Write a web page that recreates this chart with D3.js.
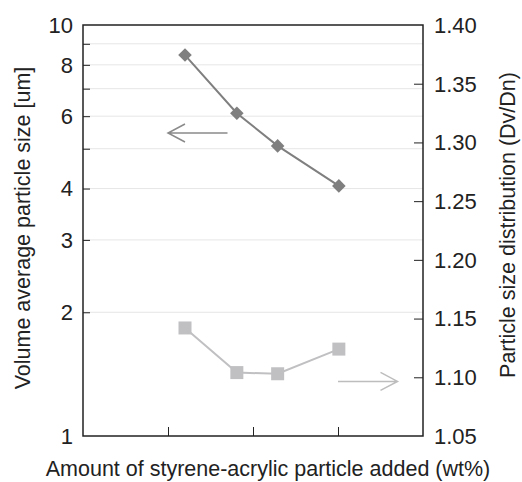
<!DOCTYPE html>
<meta charset="utf-8">
<head>
    <script src="https://d3js.org/d3.v7.min.js"></script>
    <style>
        body { margin: 0; background: white; }
        text { font-family: "Liberation Sans", Arial, sans-serif; fill: #222; }
    </style>
</head>
<body>
<div id="chart"></div>
<script>
    // data
    var amount = [1.2, 1.81, 2.29, 3.01];          // wt% (no tick labels on x)
    var particleSize = [8.45, 6.1, 5.08, 4.06];    // um, left log axis
    var distribution = [1.142, 1.104, 1.103, 1.124]; // Dv/Dn, right axis
    var leftTickLabels = [1, 2, 3, 4, 6, 8, 10];
    var leftGrid = [2, 3, 4, 5, 6, 7, 8, 9];
    var rightTicks = [1.05, 1.10, 1.15, 1.20, 1.25, 1.30, 1.35, 1.40];
    var xTicks = [1, 2, 3];

    var width = 522, height = 482;
    var margin = { top: 25, right: 99, bottom: 46, left: 83 };
    var plotW = width - margin.left - margin.right,
        plotH = height - margin.top - margin.bottom;

    var svg = d3.select("#chart").append("svg")
        .attr("width", width)
        .attr("height", height);
    var g = svg.append("g")
        .attr("transform", "translate(" + margin.left + "," + margin.top + ")");

    var x = d3.scaleLinear().domain([0, 4]).range([0, plotW]);
    var yL = d3.scaleLog().domain([1, 10]).range([plotH, 0]);
    var yR = d3.scaleLinear().domain([1.05, 1.40]).range([plotH, 0]);

    // gridlines
    g.append("g").selectAll("line")
        .data(leftGrid)
        .enter().append("line")
        .attr("x1", 0).attr("x2", plotW)
        .attr("y1", d => yL(d)).attr("y2", d => yL(d))
        .attr("stroke", "#e6e6e6")
        .attr("stroke-width", 1);

    // left axis: inward ticks at every grid line, labels only on some
    var leftAxis = d3.axisRight(yL)
        .tickValues(leftGrid)
        .tickSize(7)
        .tickFormat("");
    g.append("g").call(leftAxis)
        .call(a => a.select(".domain").remove())
        .selectAll("line").attr("stroke", "#222");
    g.append("g").selectAll("text")
        .data(leftTickLabels)
        .enter().append("text")
        .attr("x", -10)
        .attr("y", d => yL(d))
        .attr("dy", "0.36em")
        .attr("text-anchor", "end")
        .style("font-size", "22px")
        .text(d => d);

    // right axis
    var rightAxis = d3.axisLeft(yR)
        .tickValues(rightTicks.slice(1, -1))
        .tickSize(9)
        .tickFormat("");
    g.append("g").attr("transform", "translate(" + plotW + ",0)")
        .call(rightAxis)
        .call(a => a.select(".domain").remove())
        .selectAll("line").attr("stroke", "#222");
    g.append("g").selectAll("text")
        .data(rightTicks)
        .enter().append("text")
        .attr("x", plotW + 11)
        .attr("y", d => yR(d))
        .attr("dy", "0.36em")
        .style("font-size", "22px")
        .text(d => d3.format(".2f")(d));

    // bottom axis ticks, no labels
    var xAxis = d3.axisTop(x).tickValues(xTicks).tickSize(9).tickFormat("");
    g.append("g").attr("transform", "translate(0," + plotH + ")")
        .call(xAxis)
        .call(a => a.select(".domain").remove())
        .selectAll("line").attr("stroke", "#222");

    // frame
    g.append("rect")
        .attr("width", plotW).attr("height", plotH)
        .attr("fill", "none")
        .attr("stroke", "#222")
        .attr("stroke-width", 1.5);

    // particle size series (diamonds)
    var pts1 = amount.map((a, i) => [x(a), yL(particleSize[i])]);
    g.append("path")
        .attr("d", d3.line()(pts1))
        .attr("fill", "none")
        .attr("stroke", "#7f7f7f")
        .attr("stroke-width", 2);
    g.append("g").selectAll("path")
        .data(pts1)
        .enter().append("path")
        .attr("transform", d => "translate(" + d[0] + "," + d[1] + ") rotate(45)")
        .attr("d", "M-4.8,-4.8H4.8V4.8H-4.8Z")
        .attr("fill", "#7f7f7f");

    // distribution series (squares)
    var pts2 = amount.map((a, i) => [x(a), yR(distribution[i])]);
    g.append("path")
        .attr("d", d3.line()(pts2))
        .attr("fill", "none")
        .attr("stroke", "#c0c0c3")
        .attr("stroke-width", 2);
    g.append("g").selectAll("rect")
        .data(pts2)
        .enter().append("rect")
        .attr("x", d => d[0] - 6.5).attr("y", d => d[1] - 6.5)
        .attr("width", 13).attr("height", 13)
        .attr("fill", "#c0c0c3");

    // arrows pointing to each axis
    function arrow(x1, x2, yv, color) {
        var dir = x2 < x1 ? 1 : -1;
        g.append("path")
            .attr("d", "M" + x1 + "," + yv + "H" + x2 +
                "M" + (x2 + dir * 17) + "," + (yv - 9) + "L" + x2 + "," + yv +
                "L" + (x2 + dir * 17) + "," + (yv + 9))
            .attr("fill", "none")
            .attr("stroke", color)
            .attr("stroke-width", 1.5);
    }
    arrow(x(1.7), x(1.0), yL(5.46), "#8a8a8a");
    arrow(x(3.0), x(3.7), yR(1.0965), "#bdbdbd");

    // axis titles
    svg.append("text")
        .attr("transform", "translate(22," + (margin.top + 203) + ") rotate(-90)")
        .attr("text-anchor", "middle")
        .attr("dy", "0.35em")
        .style("font-size", "21.5px")
        .text("Volume average particle size [um]");
    svg.append("text")
        .attr("transform", "translate(507," + (margin.top + 200) + ") rotate(-90)")
        .attr("text-anchor", "middle")
        .attr("dy", "0.35em")
        .style("font-size", "21.5px")
        .text("Particle size distribution (Dv/Dn)");
    svg.append("text")
        .attr("x", 268)
        .attr("y", 476)
        .attr("text-anchor", "middle")
        .style("font-size", "21.5px")
        .text("Amount of styrene-acrylic particle added (wt%)");
</script>
</body>
</html>
